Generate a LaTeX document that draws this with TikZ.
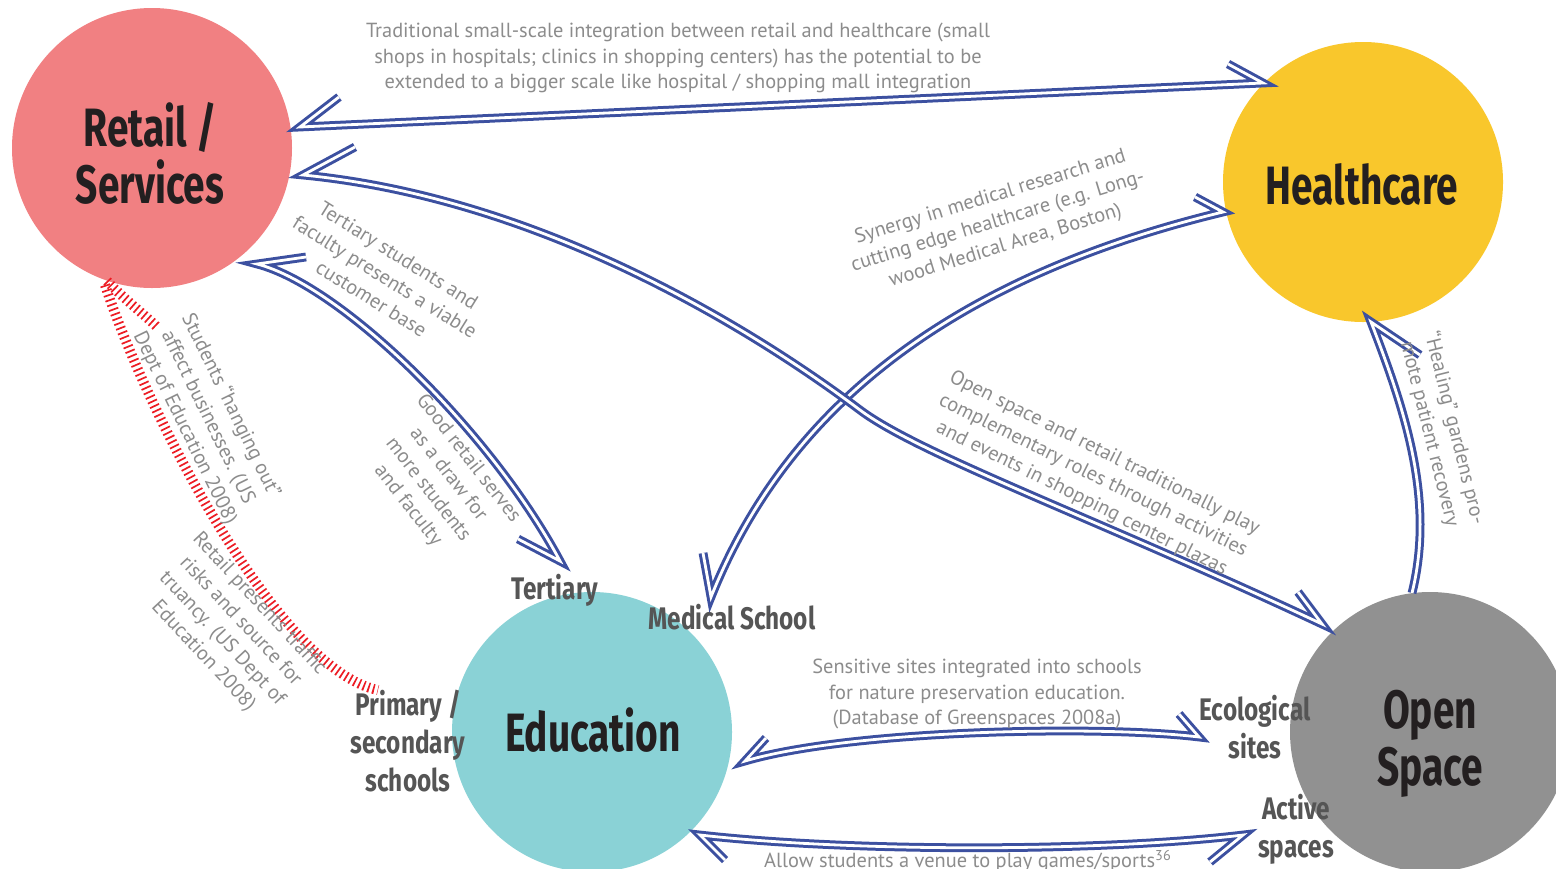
\documentclass[tikz,border=0pt]{standalone}
\usepackage{fontspec}
\setmainfont{PT Sans}
\newfontfamily\bcf[FakeStretch=0.72]{Fira Sans}
\newfontfamily\lbf[FakeStretch=0.78]{Fira Sans}
\usetikzlibrary{calc}
\definecolor{retailc}{RGB}{241,128,130}
\definecolor{healthc}{RGB}{249,199,44}
\definecolor{educ}{RGB}{138,210,214}
\definecolor{openc}{RGB}{145,145,145}
\definecolor{connc}{RGB}{60,80,160}
\definecolor{notec}{RGB}{140,140,140}
\definecolor{lblc}{RGB}{85,85,85}
\definecolor{bigc}{RGB}{35,31,32}
\definecolor{hatchc}{RGB}{237,28,36}
\tikzset{
  circ/.style={circle, draw=none, minimum size=140pt, inner sep=0pt},
  bigtxt/.style={font=\bcf\bfseries\fontsize{27}{28.5}\selectfont, text=bigc, align=center, inner sep=0pt},
  lbl/.style={font=\lbf\bfseries\fontsize{15.6}{19}\selectfont, text=lblc, align=center, inner sep=0pt},
  note/.style={font=\fontsize{10.2}{12.75}\selectfont, text=notec, align=center, inner sep=0pt},
  conn/.style={draw=connc, line width=1.5pt, double=white, double distance=1.4pt, line join=miter, miter limit=60, line cap=butt},
  hatch/.style={draw=hatchc, line width=5pt, dash pattern=on 0.85pt off 1.65pt},
}
\begin{document}
\begin{tikzpicture}[x=0.5pt,y=0.5pt]
\useasboundingbox (0,0) rectangle (1556,-868);
\fill[white] (0,0) rectangle (1556,-868);

% circles
\node[circ, fill=retailc] (R) at (152,-148) {};
\node[circ, fill=healthc] (H) at (1363,-182) {};
\node[circ, fill=educ] (E) at (592,-732) {};
\node[circ, fill=openc] (O) at (1430,-732) {};

% circle texts
\node[bigtxt] (Rt) at (150,-153) {Retail /\\Services};
\node[bigtxt] (Ht) at (1362,-184) {Healthcare};
\node[bigtxt] (Et) at (593,-730) {Education};
\node[bigtxt] (Ot) at (1430,-744) {Open\\Space};

% sub labels
\node[lbl] (tert) at (555,-590) {Tertiary};
\node[lbl] (med) at (732,-617) {Medical School};
\node[lbl] (prim) at (408,-741) {Primary /\\secondary\\schools};
\node[lbl] (ecol) at (1255,-727) {Ecological\\sites};
\node[lbl] (act) at (1296,-829) {Active\\spaces};

% tip vertices and arm ends
\coordinate (tRH) at ($(R)+(148,21)$);   \coordinate (aRH) at ($(R)+(187,51)$);
\coordinate (tHR) at ($(H)+(-100,99)$);  \coordinate (aHR) at ($(H)+(-135,118)$);
\coordinate (tRO) at ($(R)+(151,-27)$);  \coordinate (aRO) at ($(R)+(203,1)$);
\coordinate (tOR) at ($(O)+(-108,108)$); \coordinate (aOR) at ($(O)+(-132,140)$);
\coordinate (tRE) at ($(R)+(105,-116)$); \coordinate (aRE) at ($(R)+(154,-109)$);
\coordinate (tER) at ($(tert)+(5,29)$);  \coordinate (aER) at ($(tert)+(-37,51)$);
\coordinate (tHE) at ($(H)+(-140,-30)$); \coordinate (aHE) at ($(H)+(-168,-15)$);
\coordinate (tEH) at ($(med)+(-21,20)$); \coordinate (aEH) at ($(med)+(-29,64)$);
\coordinate (tOH) at ($(O)+(-18,139)$);
\coordinate (tHO) at ($(H)+(8,-140)$);   \coordinate (aHO) at ($(H)+(57,-173)$);
\coordinate (tEO) at ($(E)+(153,-29)$);  \coordinate (aEO) at ($(E)+(174,-6)$);
\coordinate (tOE) at ($(ecol)+(-56,-10)$); \coordinate (aOE) at ($(ecol)+(-76,13)$);
\coordinate (tEA) at ($(E)+(108,-103)$); \coordinate (aEA) at ($(E)+(133,-128)$);
\coordinate (tAE) at ($(act)+(-53,-6)$); \coordinate (aAE) at ($(act)+(-86,-33)$);
\coordinate (rs) at ($(R)+(-47,-137)$);
\coordinate (rs2) at ($(R)+(-45,-133)$);
\coordinate (re) at ($(prim)+(-30,51)$);

% connectors
\draw[hatch] (rs) .. controls (150,-420) and (280,-670) .. (re);
\draw[hatch] (rs2) .. controls (125,-300) and (145,-315) .. (158,-328);

\draw[conn] (aRH) -- (tRH) -- (tHR) -- (aHR);
\draw[conn] (aRE) -- (tRE) .. controls (340,-285) and (490,-430) .. (tER) -- (aER);
\draw[conn] (aEH) -- (tEH) .. controls (770,-450) and (900,-290) .. (tHE) -- (aHE);
\draw[conn] (aRO) -- (tRO) .. controls (560,-200) and (780,-350) .. (860,-410)
            .. controls (920,-455) and (1100,-520) .. (tOR) -- (aOR);
\draw[conn] (tOH) .. controls (1435,-500) and (1405,-410) .. (tHO) -- (aHO);
\draw[conn] (aEO) -- (tEO) .. controls (850,-730) and (1100,-725) .. (tOE) -- (aOE);
\draw[conn] (aEA) -- (tEA) .. controls (850,-852) and (1100,-852) .. (tAE) -- (aAE);

% notes
\node[note] (n1) at (678,-58) {Traditional small-scale integration between retail and healthcare (small\\shops in hospitals; clinics in shopping centers) has the potential to be\\extended to a bigger scale like hospital / shopping mall integration};
\node[note, rotate=17] (n2) at (998,-222) {Synergy in medical research and\\cutting edge healthcare (e.g. Long-\\wood Medical Area, Boston)};
\node[note, rotate=-32] (n3) at (385,-277) {Tertiary students and\\faculty presents a viable\\customer base};
\node[note, rotate=-52] (n4) at (438,-482) {Good retail serves\\as a draw for\\more students\\and faculty};
\node[note, rotate=-64] (n5) at (208,-417) {Students “hanging out”\\affect businesses. (US\\Dept of Education 2008)};
\node[note, rotate=-47] (n6) at (231,-630) {Retail presents traffic\\risks and source for\\truancy. (US Dept of\\Education 2008)};
\node[note, rotate=-26.5] (n7) at (1093,-476) {Open space and retail traditionally play\\complementary roles through activities\\and events in shopping center plazas};
\node[note, rotate=-76] (n8) at (1442,-431) {“Healing” gardens pro-\\mote patient recovery};
\node[note] (n9) at (977,-694) {Sensitive sites integrated into schools\\for nature preservation education.\\(Database of Greenspaces 2008a)};
\node[note] (n10) at (968,-861) {Allow students a venue to play games/sports\textsuperscript{36}};
\end{tikzpicture}
\end{document}
